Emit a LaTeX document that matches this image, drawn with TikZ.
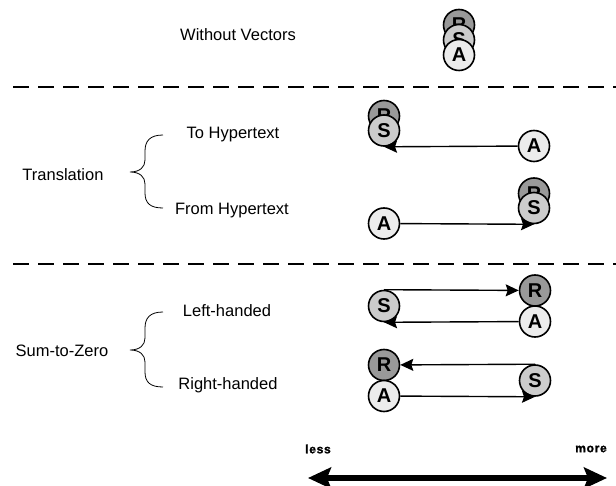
\documentclass[tikz,border=0pt]{standalone}
\usepackage{fontspec}
\setmainfont{Liberation Sans}
\newfontfamily\heavyfont[FakeBold=1.5,LetterSpace=6]{Liberation Sans Bold}
\usetikzlibrary{arrows.meta}
\definecolor{rgray}{HTML}{999999}
\definecolor{sgray}{HTML}{CCCCCC}
\definecolor{agray}{HTML}{ECECEC}
\begin{document}
\begin{tikzpicture}[x=1pt,y=-1pt,
  ball/.style={circle, draw, line width=1.6pt, minimum size=31pt, inner sep=0pt,
    font=\fontsize{20}{20}\selectfont\bfseries},
  rball/.style={ball, fill=rgray},
  sball/.style={ball, fill=sgray},
  aball/.style={ball, fill=agray},
  conn/.style={line width=1.4pt, -{Stealth[length=13pt,width=12pt,inset=2pt]}},
  lbl/.style={font=\fontsize{16.5}{18}\selectfont, inner sep=0pt},
  endlbl/.style={font=\fontsize{12}{14}\heavyfont, inner sep=0pt},
  sep/.style={line width=2pt, dash pattern=on 16pt off 9pt},
  brace/.style={line width=0.8pt},
  bigarrow/.style={line width=6pt, {Stealth[length=23pt,width=21pt,inset=4pt]}-{Stealth[length=23pt,width=21pt,inset=4pt]}}
]
\useasboundingbox (0,0) rectangle (616,486);

% separators
\coordinate (d1a) at (13,87);  \coordinate (d1b) at (616,87);
\coordinate (d2a) at (13,264); \coordinate (d2b) at (616,264);
\draw[sep] (d1a) -- (d1b);
\draw[sep] (d2a) -- (d2b);

% Without vectors
\node[lbl] (wv) at (238,35) {Without Vectors};
\node[rball] (R0) at (459,25) {R};
\node[sball] (S0) at (459,40) {S};
\node[aball] (A0) at (459,55) {A};

% Translation
\node[lbl] (tr) at (63,175) {Translation};
\node[lbl] (toh) at (233,135) {To Hypertext};
\node[lbl] (fromh) at (232,211) {From Hypertext};
\draw[brace] (163,135) .. controls (150,135) and (145,141) .. (145,151) -- (145,160)
  .. controls (145,167) and (140,172) .. (130,172)
  .. controls (140,172) and (145,177) .. (145,184) -- (145,193)
  .. controls (145,203) and (150,208) .. (163,208);

\node[rball] (R1) at (384,116) {R};
\node[sball] (S1) at (384,130.5) {S};
\node[aball] (A1) at (534,146) {A};
\draw[conn] (A1) -- (S1.south);

\node[rball] (R2) at (534,193.5) {R};
\node[sball] (S2) at (534,208) {S};
\node[aball] (A2) at (384,223.5) {A};
\draw[conn] (A2) -- (S2.south);

% Sum-to-Zero
\node[lbl] (sz) at (62,351) {Sum-to-Zero};
\node[lbl] (lh) at (227,311) {Left-handed};
\node[lbl] (rh) at (228,385) {Right-handed};
\draw[brace] (163,312) .. controls (150,312) and (145,318) .. (145,328) -- (145,338)
  .. controls (145,345) and (140,350) .. (130,350)
  .. controls (140,350) and (145,355) .. (145,362) -- (145,372)
  .. controls (145,382) and (150,387) .. (163,387);

\node[rball] (R3) at (535,290.5) {R};
\node[aball] (A3) at (535,321.5) {A};
\node[sball] (S3) at (384,306) {S};
\draw[conn] (S3.north) -- (R3);
\draw[conn] (A3) -- (S3.south);

\node[rball] (R4) at (384,365) {R};
\node[aball] (A4) at (384,396) {A};
\node[sball] (S4) at (535,380.5) {S};
\draw[conn] (S4.north) -- (R4);
\draw[conn] (A4) -- (S4.south);

% scale
\node[endlbl] (less) at (318,449) {less};
\node[endlbl] (more) at (591,449) {more};
\coordinate (bl) at (308,478);
\coordinate (br) at (607,478);
\draw[bigarrow] (bl) -- (br);
\end{tikzpicture}
\end{document}
